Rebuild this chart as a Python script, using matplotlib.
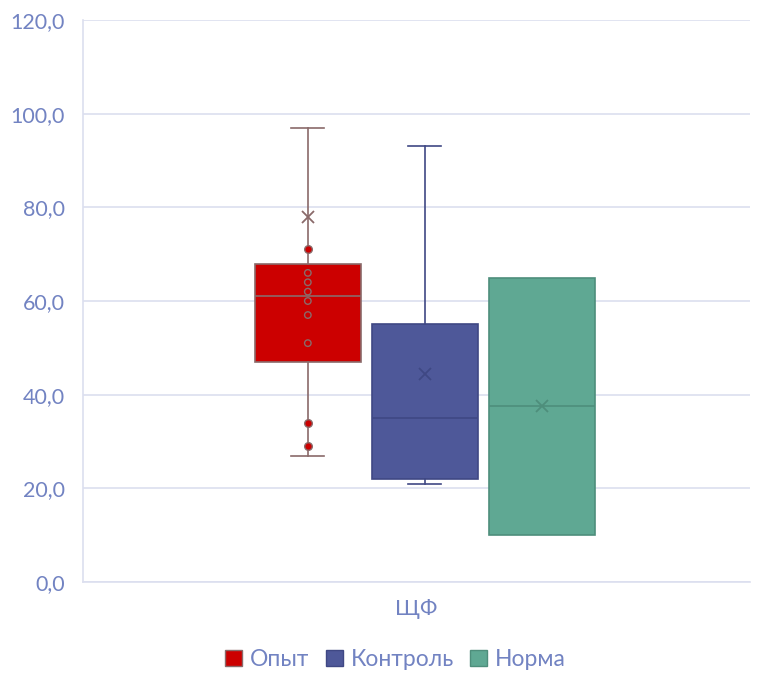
import matplotlib
matplotlib.use("Agg")
import matplotlib.pyplot as plt
from matplotlib.patches import Patch

plt.rcParams['font.family'] = ['Lato', 'DejaVu Sans']

groups = ['Опыт', 'Контроль', 'Норма']
category = 'ЩФ'
q1 = [47, 22, 10]
med = [61, 35, 37.5]
q3 = [68, 55, 65]
whislo = [27, 21, 10]
whishi = [97, 93, 65]
means = [78, 44.4, 37.5]
outliers = [[71, 34, 29], [], []]
inner_points = [[66, 64, 62, 60, 57, 51], [], []]

fills = ['#CC0000', '#4E5899', '#5FA893']
edges = ['#8A6A6A', '#3F4884', '#4E8E7B']
text_col = '#7283C2'
grid_col = '#DCDFEF'

fig = plt.figure(figsize=(7.65, 6.73), dpi=100)
ax = fig.add_axes([0.1085, 0.1352, 0.8718, 0.8351])

center = 0.5125
offsets = [-0.1754, 0.0, 0.1754]
width = 0.159

for i in range(3):
    stats = [{'med': med[i], 'q1': q1[i], 'q3': q3[i],
              'whislo': whislo[i], 'whishi': whishi[i],
              'mean': means[i], 'fliers': outliers[i]}]
    pos = center + offsets[i]
    ax.bxp(stats, positions=[pos], widths=width, patch_artist=True,
           showmeans=True, showcaps=(whislo[i] != q1[i]),
           boxprops=dict(facecolor=fills[i], edgecolor=edges[i], linewidth=1.2),
           medianprops=dict(color=edges[i], linewidth=1.2),
           whiskerprops=dict(color=edges[i], linewidth=1.2),
           capprops=dict(color=edges[i], linewidth=1.2),
           capwidths=0.05,
           meanprops=dict(marker='x', markeredgecolor=edges[i], markersize=9,
                          markeredgewidth=1.3),
           flierprops=dict(marker='o', markerfacecolor=fills[i],
                           markeredgecolor=edges[i], markersize=5.5),
           zorder=3)
    if inner_points[i]:
        ax.scatter([pos] * len(inner_points[i]), inner_points[i], s=22,
                   facecolors='none', edgecolors=edges[i], linewidths=1.0,
                   zorder=4)

ax.set_xlim(0, 1)
ax.set_ylim(0, 120)
ax.set_yticks(range(0, 121, 20))
ax.set_yticklabels([f'{v},0' for v in range(0, 121, 20)])
ax.set_xticks([0.5])
ax.set_xticklabels([category])
ax.yaxis.grid(True, color=grid_col, linewidth=1.2)
ax.set_axisbelow(True)
for s in ['top', 'right']:
    ax.spines[s].set_visible(False)
for s in ['left', 'bottom']:
    ax.spines[s].set_color(grid_col)
    ax.spines[s].set_linewidth(1.2)
ax.tick_params(axis='both', length=0, colors=text_col)
ax.tick_params(axis='y', pad=13, labelsize=15.5)
ax.tick_params(axis='x', pad=12, labelsize=16)

handles = [Patch(facecolor=fills[i], edgecolor=edges[i], label=groups[i])
           for i in range(3)]
fig.legend(handles=handles, loc='center', bbox_to_anchor=(0.517, 0.02),
           ncol=3, frameon=False, fontsize=16.5, labelcolor=text_col,
           handlelength=0.75, handleheight=0.75, handletextpad=0.35,
           columnspacing=0.7)

fig.savefig('out.png', dpi=100)
